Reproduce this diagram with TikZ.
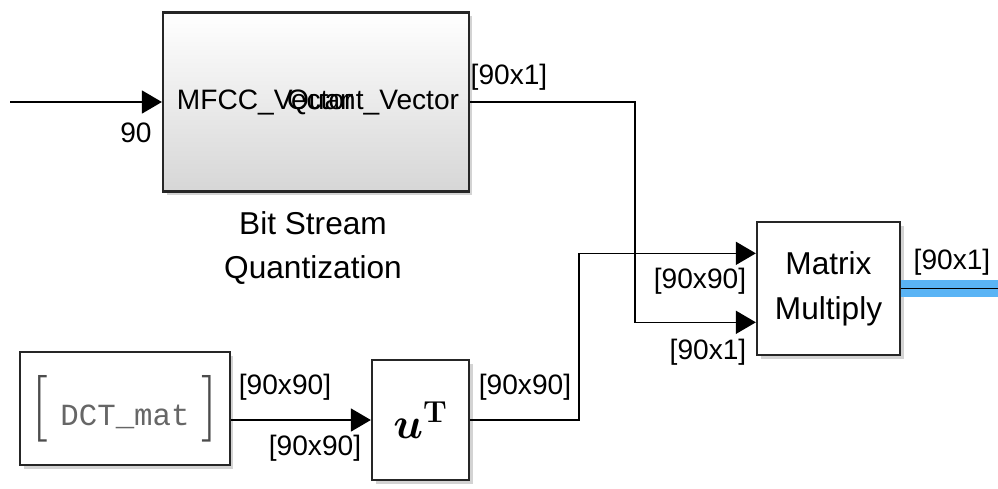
\documentclass[tikz,border=0pt]{standalone}
\usepackage[no-math]{fontspec}
\usepackage{amsmath}
\setmainfont{Liberation Sans}
\setmonofont{Liberation Mono}
\usetikzlibrary{arrows.meta,shadows,calc}
\definecolor{busblue}{HTML}{5AB4F5}
\begin{document}
\begin{tikzpicture}
        [x=0.02cm,y=-0.02cm,
        block/.style={draw=black!85,line width=1.3pt,fill=white,
            drop shadow={shadow xshift=2pt,shadow yshift=-2pt,opacity=.35}},
        line/.style={line width=0.9pt,-{Triangle[length=4mm,width=4.6mm]}},
        wire/.style={line width=0.9pt},
        sizelabel/.style={font=\fontsize{16}{18}\selectfont,inner sep=1pt},
        blocklabel/.style={font=\fontsize{18}{25.5}\selectfont,align=center}]
        \useasboundingbox (0,0) rectangle (998,488);
        % blocks
        \node[block,top color=white,bottom color=black!16,
            minimum width=6.12cm,minimum height=3.58cm] (quant) at (316,102) {};
        \node[block,minimum width=2.86cm,minimum height=2.66cm,blocklabel] (mm) at (828.5,288.5) {Matrix\\Multiply};
        \node[block,minimum width=4.2cm,minimum height=2.26cm] (dct) at (125,408.5)
            {{\color{black!70}\fontfamily{lmr}\fontsize{38}{38}\selectfont[}\hspace{7pt}%
            {\color{black!60}\ttfamily\fontsize{17.5}{20}\selectfont DCT\_mat}\hspace{7pt}%
            {\color{black!70}\fontfamily{lmr}\fontsize{38}{38}\selectfont]}};
        \node[block,minimum width=1.94cm,minimum height=2.4cm] (ut) at (420.5,420)
            {\fontsize{27}{28}\selectfont$\boldsymbol{u}^{\mathbf{T}}$};
        % port names inside the quantizer
        \node[sizelabel,anchor=west] (qin) at ([xshift=0.26cm]quant.west) {MFCC\_Vector};
        \node[sizelabel,anchor=east] (qout) at ([xshift=-0.18cm]quant.east) {Quant\_Vector};
        \node[blocklabel] (qname) at (313,248) {Bit Stream\\Quantization};
        % ports of the multiplier
        \coordinate (in1) at ($(mm.north west)!0.24!(mm.south west)$);
        \coordinate (in2) at ($(mm.north west)!0.75!(mm.south west)$);
        \coordinate (src) at (10,102);
        \coordinate (out) at (998,288.5);
        % connectors
        \draw[line] (src) -- (quant.west);
        \draw[line] (quant.east) -| ([xshift=-2.42cm]in2) -- (in2);
        \draw[line] (ut.west -| dct.east) -- (ut.west);
        \draw[line] (ut.east) -| ([xshift=-3.54cm]in1) -- (in1);
        \draw[busblue,line width=10pt] (mm.east) -- (out);
        \draw[wire] (mm.east) -- (out);
        % signal sizes
        \node[sizelabel] (l90) at (136,133) {90};
        \node[sizelabel] (lq) at (509,77) {[90x1]};
        \node[sizelabel] (ld1) at (285,387) {[90x90]};
        \node[sizelabel] (ld2) at (315,448) {[90x90]};
        \node[sizelabel] (lu) at (525,387) {[90x90]};
        \node[sizelabel] (lm1) at (700,281) {[90x90]};
        \node[sizelabel] (lm2) at (708,352) {[90x1]};
        \node[sizelabel] (lo) at (952,262) {[90x1]};
    \end{tikzpicture}
\end{document}
